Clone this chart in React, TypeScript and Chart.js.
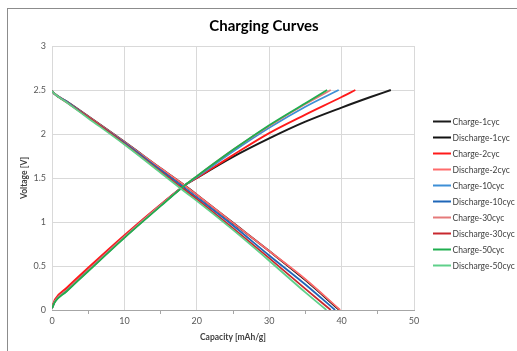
import { useEffect, useRef } from "react";
import { Chart, registerables } from "chart.js";

Chart.register(...registerables);

const chartTitle = "Charging Curves";
const xAxisTitle = "Capacity [mAh/g]";
const yAxisTitle = "Voltage [V]";

const seriesNames = [
  "Charge-1cyc",
  "Discharge-1cyc",
  "Charge-2cyc",
  "Discharge-2cyc",
  "Charge-10cyc",
  "Discharge-10cyc",
  "Charge-30cyc",
  "Discharge-30cyc",
  "Charge-50cyc",
  "Discharge-50cyc",
];

const seriesColors = [
  "#1a1a1a",
  "#111111",
  "#ff1a1a",
  "#ff6b6b",
  "#3d8fd6",
  "#1f66b8",
  "#e57a7a",
  "#c8282e",
  "#1fae4f",
  "#5fd08a",
];

// capacity (mAh/g) / voltage (V) samples for every cycle
const charge1Cap = [0, 0.4, 2, 5, 10, 15, 18.4, 20, 25, 30, 35, 40, 44, 46.8];
const charge1Volt = [0.02, 0.1, 0.22, 0.45, 0.83, 1.19, 1.42, 1.5, 1.74, 1.95, 2.14, 2.3, 2.42, 2.5];
const discharge1Cap = [0, 0.3, 2, 5, 10, 15, 18.4, 20, 25, 30, 35, 39.7];
const discharge1Volt = [2.49, 2.46, 2.37, 2.2, 1.91, 1.61, 1.41, 1.31, 0.99, 0.67, 0.34, 0];

const charge2Cap = [0, 0.4, 2, 5, 10, 15, 18.4, 20, 25, 30, 35, 40, 41.9];
const charge2Volt = [0.03, 0.12, 0.25, 0.48, 0.85, 1.2, 1.42, 1.5, 1.76, 2.01, 2.22, 2.42, 2.5];
const discharge2Cap = [0, 0.3, 2, 5, 10, 15, 18.4, 20, 25, 30, 35, 39.8];
const discharge2Volt = [2.49, 2.46, 2.37, 2.2, 1.91, 1.61, 1.41, 1.31, 0.99, 0.67, 0.35, 0];

const charge10Cap = [0, 0.4, 2, 5, 10, 15, 18.4, 20, 25, 30, 35, 39.6];
const charge10Volt = [0.02, 0.1, 0.22, 0.45, 0.83, 1.19, 1.42, 1.51, 1.8, 2.07, 2.31, 2.5];
const discharge10Cap = [0, 0.3, 2, 5, 10, 15, 18.4, 20, 25, 30, 35, 39.1];
const discharge10Volt = [2.49, 2.46, 2.37, 2.19, 1.9, 1.59, 1.38, 1.28, 0.96, 0.62, 0.29, 0];

const charge30Cap = [0, 0.4, 2, 5, 10, 15, 18.4, 20, 25, 30, 35, 38.5];
const charge30Volt = [0.02, 0.1, 0.22, 0.45, 0.83, 1.19, 1.42, 1.52, 1.82, 2.09, 2.34, 2.5];
const discharge30Cap = [0, 0.3, 2, 5, 10, 15, 18.4, 20, 25, 30, 35, 38.5];
const discharge30Volt = [2.49, 2.46, 2.36, 2.19, 1.89, 1.57, 1.36, 1.26, 0.93, 0.59, 0.24, 0];

const charge50Cap = [0, 0.4, 2, 5, 10, 15, 18.4, 20, 25, 30, 35, 38];
const charge50Volt = [0.02, 0.09, 0.21, 0.44, 0.82, 1.18, 1.42, 1.52, 1.82, 2.1, 2.35, 2.5];
const discharge50Cap = [0, 0.3, 2, 5, 10, 15, 18.4, 20, 25, 30, 35, 37.9];
const discharge50Volt = [2.49, 2.46, 2.36, 2.18, 1.88, 1.56, 1.34, 1.24, 0.91, 0.56, 0.2, 0];

const seriesCaps = [
  charge1Cap, discharge1Cap, charge2Cap, discharge2Cap, charge10Cap,
  discharge10Cap, charge30Cap, discharge30Cap, charge50Cap, discharge50Cap,
];
const seriesVolts = [
  charge1Volt, discharge1Volt, charge2Volt, discharge2Volt, charge10Volt,
  discharge10Volt, charge30Volt, discharge30Volt, charge50Volt, discharge50Volt,
];

const xTicks = [0, 10, 20, 30, 40, 50];
const yTicks = [0, 0.5, 1, 1.5, 2, 2.5, 3];

const FONT = "Lato, 'Open Sans', sans-serif";

// Title and legend drawn straight on the canvas so they sit where wanted
const decorPlugin = {
  id: "decor",
  afterDraw(chart: any) {
    const ctx = chart.ctx as CanvasRenderingContext2D;
    ctx.save();
    ctx.fillStyle = "#000000";
    ctx.font = `bold 15px ${FONT}`;
    ctx.textAlign = "center";
    ctx.textBaseline = "middle";
    ctx.fillText(chartTitle, 264, 26);

    ctx.font = `8.5px ${FONT}`;
    ctx.textAlign = "left";
    chart.data.datasets.forEach((ds: any, i: number) => {
      const y = 121.5 + i * 16;
      ctx.strokeStyle = ds.borderColor;
      ctx.lineWidth = 2;
      ctx.beginPath();
      ctx.moveTo(433, y);
      ctx.lineTo(451, y);
      ctx.stroke();
      ctx.fillStyle = "#404040";
      ctx.fillText(ds.label, 452.5, y + 0.5);
    });
    ctx.restore();
  },
};

export default function App() {
  const canvasRef = useRef<HTMLCanvasElement | null>(null);

  useEffect(() => {
    if (!canvasRef.current) return;
    const datasets = seriesNames.map((name, i) => ({
      label: name,
      data: seriesCaps[i].map((x, j) => ({ x, y: seriesVolts[i][j] })),
      borderColor: seriesColors[i],
      backgroundColor: seriesColors[i],
      borderWidth: i < 2 ? 2 : 1.8,
      pointRadius: 0,
      showLine: true,
      fill: false,
      cubicInterpolationMode: "monotone" as const,
      order: seriesNames.length - i,
    }));

    const chart = new Chart(canvasRef.current, {
      type: "scatter",
      data: { datasets },
      options: {
        animation: false,
        responsive: false,
        maintainAspectRatio: false,
        layout: { padding: { left: 19, right: 103, top: 46, bottom: 9 } },
        plugins: {
          legend: { display: false },
          title: { display: false },
          tooltip: { enabled: false },
        },
        scales: {
          x: {
            type: "linear",
            min: 0,
            max: 50,
            afterBuildTicks: (scale: any) => {
              const t: any[] = [];
              for (let v = 0; v <= 50; v += 5) t.push({ value: v });
              scale.ticks = t;
            },
            afterFit: (scale: any) => {
              scale.height = 32;
            },
            ticks: {
              autoSkip: false,
              maxRotation: 0,
              padding: 2,
              color: "#595959",
              font: { family: FONT, size: 9 },
              callback: (v: any) => (xTicks.includes(Number(v)) ? String(v) : ""),
            },
            grid: {
              color: (c: any) =>
                c.tick && xTicks.includes(c.tick.value) ? "#d9d9d9" : "rgba(0,0,0,0)",
              tickColor: (c: any) =>
                c.tick && xTicks.includes(c.tick.value) ? "rgba(0,0,0,0)" : "#a6a6a6",
              tickLength: 4,
              lineWidth: 1,
            },
            border: { color: "#a6a6a6", width: 1 },
            title: {
              display: true,
              text: xAxisTitle,
              color: "#404040",
              font: { family: FONT, size: 8.5, weight: "bold" },
              padding: { top: 1, bottom: 0 },
            },
          },
          y: {
            type: "linear",
            min: 0,
            max: 3,
            afterBuildTicks: (scale: any) => {
              scale.ticks = yTicks.map((v) => ({ value: v }));
            },
            afterFit: (scale: any) => {
              scale.width = 33;
            },
            ticks: {
              padding: 6,
              color: "#595959",
              font: { family: FONT, size: 9 },
              callback: (v: any) => String(v),
            },
            grid: {
              color: "#d9d9d9",
              tickLength: 0,
              lineWidth: 1,
            },
            border: { display: false },
            title: {
              display: true,
              text: yAxisTitle,
              color: "#404040",
              font: { family: FONT, size: 8.5, weight: "bold" },
              padding: { top: 0, bottom: 0 },
            },
          },
        },
      },
      plugins: [decorPlugin],
    });
    return () => chart.destroy();
  }, []);

  return (
    <div
      style={{
        position: "fixed",
        left: 0,
        top: 0,
        width: 517,
        height: 351,
        background: "#ffffff",
        overflow: "hidden",
      }}
    >
      <div
        style={{
          position: "absolute",
          left: 7,
          top: 8,
          width: 700,
          height: 500,
          border: "1px solid #8c8c8c",
        }}
      />
      <canvas
        ref={canvasRef}
        width={517}
        height={351}
        style={{ position: "absolute", left: 0, top: 0, width: 517, height: 351 }}
      />
    </div>
  );
}
